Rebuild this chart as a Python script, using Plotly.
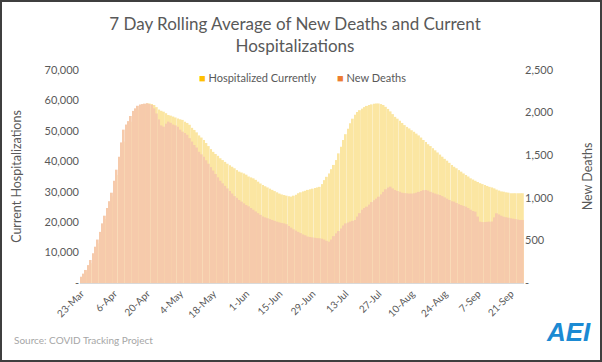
import plotly.graph_objects as go
import pandas as pd

# ---- data (7-day rolling averages) ----
start_date = "2020-03-23"

hospitalized = [
    1800, 2800, 3800, 5000, 6500, 8500, 10500,
    13000, 15500, 18500, 21000, 23500, 26000, 28500,
    32000, 35500, 39000, 43000, 46500, 49000, 51000,
    53000, 54500, 56000, 57000, 57800, 58300, 58700,
    59000, 59000, 58800, 58500, 57800, 57000, 56600,
    56300, 55800, 55200, 55000, 54700, 54400, 54100,
    53800, 53600, 53000, 52600, 52000, 51000, 50300,
    49500, 48500, 47800, 47000, 46000, 45000, 44000,
    43100, 42400, 41800, 41000, 40400, 39800, 39200,
    38700, 38200, 37700, 37100, 36600, 36300, 36000,
    35600, 35000, 34700, 34400, 33900, 33300, 32700,
    32200, 31800, 31400, 31000, 30600, 30200, 29800,
    29400, 29100, 28900, 28700, 28500, 28400, 28700,
    29000, 29500, 29800, 30100, 30300, 30600, 30800,
    31000, 31200, 31400, 31600, 32500, 33800, 34900,
    36000, 37400, 38800, 40400, 42600, 44800, 47000,
    48900, 50700, 52500, 54000, 55300, 56200, 56800,
    57300, 57800, 58200, 58500, 58700, 58900, 59000,
    59000, 58800, 58500, 57900, 57200, 56400, 55500,
    54600, 54000, 53300, 52600, 51900, 51300, 50800,
    50200, 49700, 49100, 48500, 47800, 47000, 46300,
    45600, 45000, 44300, 43600, 42900, 42200, 41500,
    40800, 40200, 39500, 38800, 38200, 37700, 37100,
    36600, 36000, 35500, 35000, 34400, 34000, 33600,
    33200, 32800, 32500, 32200, 31900, 31600, 31400,
    31100, 30700, 30400, 30100, 30000, 29800, 29700,
    29500, 29500, 29500, 29500, 29500, 29500,
]

new_deaths = [
    74, 110, 153, 210, 270, 350, 426,
    510, 600, 700, 790, 880, 960, 1060,
    1200, 1330, 1483, 1650, 1800, 1860, 1900,
    1960, 2020, 2050, 2080, 2095, 2100, 2105,
    2110, 2100, 2090, 2050, 1990, 1920, 1850,
    1835, 1870, 1894, 1880, 1860, 1850, 1835,
    1800, 1776, 1760, 1740, 1700, 1660, 1620,
    1590, 1540, 1510, 1483, 1440, 1400, 1360,
    1320, 1280, 1240, 1200, 1170, 1140, 1110,
    1080, 1050, 1020, 1000, 975, 955, 935,
    915, 900, 880, 860, 840, 820, 800,
    780, 770, 760, 750, 740, 730, 720,
    712, 705, 700, 690, 670, 650, 630,
    615, 600, 585, 570, 560, 545, 540,
    535, 530, 527, 525, 520, 510, 495,
    485, 510, 550, 583, 610, 640, 675,
    700, 710, 720, 730, 740, 780, 820,
    860, 880, 896, 920, 950, 970, 990,
    1013, 1040, 1070, 1100, 1120, 1131, 1110,
    1092, 1080, 1070, 1060, 1055, 1053, 1050,
    1050, 1053, 1060, 1070, 1080, 1090, 1092,
    1085, 1070, 1060, 1050, 1040, 1033, 1020,
    1005, 990, 975, 960, 955, 940, 925,
    915, 905, 896, 880, 860, 845, 837,
    780, 720, 715, 715, 718, 720, 722,
    770, 818, 805, 790, 778, 772, 766,
    760, 755, 750, 745, 740, 740,
]

tick_labels = ["23-Mar", "6-Apr", "20-Apr", "4-May", "18-May", "1-Jun", "15-Jun",
               "29-Jun", "13-Jul", "27-Jul", "10-Aug", "24-Aug", "7-Sep", "21-Sep"]

left_ticks = [0, 10000, 20000, 30000, 40000, 50000, 60000, 70000]
left_tick_text = ["-", "10,000", "20,000", "30,000", "40,000", "50,000", "60,000", "70,000"]
right_ticks = [0, 500, 1000, 1500, 2000, 2500]
right_tick_text = ["-", "500", "1,000", "1,500", "2,000", "2,500"]

series_names = ["Hospitalized Currently", "New Deaths"]

dates = pd.date_range(start_date, periods=len(hospitalized), freq="D")
tick_dates = dates[::14][:len(tick_labels)]

# ---- style ----
W, H = 602, 362
ML, MR, MT, MB = 80, 78, 70, 79
GREY = "#595959"
FONT = "Lato"
YEL_BAR = "#FBE6A2"
ORA_BAR = "#F6CAAB"
YEL_KEY = "#FFC000"
ORA_KEY = "#ED7D31"

fig = go.Figure()
fig.add_trace(go.Bar(x=dates, y=hospitalized, name=series_names[0],
                     marker=dict(color=YEL_BAR, line=dict(width=0)),
                     yaxis="y", showlegend=False))
fig.add_trace(go.Bar(x=dates, y=new_deaths, name=series_names[1],
                     marker=dict(color=ORA_BAR, line=dict(width=0)),
                     yaxis="y2", showlegend=False))

pw = W - ML - MR
ph = H - MT - MB


def px_x(p):
    return (p - ML) / pw


def px_y(p):
    return (H - MB - p) / ph


fig.update_layout(
    width=W, height=H,
    margin=dict(l=ML, r=MR, t=MT, b=MB, pad=0),
    paper_bgcolor="white", plot_bgcolor="white",
    barmode="overlay", bargap=0.18,
    showlegend=False,
    font=dict(family=FONT, color=GREY, size=11),
    title=dict(text="7 Day Rolling Average of New Deaths and Current<br>Hospitalizations",
               x=px_x(295), xref="paper", xanchor="center",
               y=1 - 30 / H, yanchor="middle",
               font=dict(family=FONT, size=17, color=GREY)),
    xaxis=dict(type="date",
               range=[dates[0] - pd.Timedelta(hours=12), dates[-1] + pd.Timedelta(hours=12)],
               tickvals=tick_dates, ticktext=tick_labels, tickangle=-45,
               tickfont=dict(size=10, color=GREY),
               showgrid=False, zeroline=False, automargin=False,
               showline=True, linecolor="#D9D9D9", linewidth=1, ticks=""),
    yaxis=dict(range=[0, 70000], tickvals=left_ticks, ticktext=left_tick_text,
               showgrid=False, zeroline=False, showline=False, ticks="", automargin=False,
               tickfont=dict(size=11, color=GREY),
               title=dict(text="Current Hospitalizations", font=dict(size=12.5, color=GREY),
                          standoff=20)),
    yaxis2=dict(range=[0, 2500], tickvals=right_ticks, ticktext=right_tick_text,
                overlaying="y", side="right", automargin=False,
                showgrid=False, zeroline=False, showline=False, ticks="",
                tickfont=dict(size=11, color=GREY),
                title=dict(text="New Deaths", font=dict(size=12.5, color=GREY), standoff=30)),
    shapes=[dict(type="rect", xref="paper", yref="paper",
                 x0=px_x(1), x1=px_x(W - 1), y0=px_y(H - 1), y1=px_y(1),
                 line=dict(color="#3F3F3F", width=2), fillcolor="rgba(0,0,0,0)",
                 layer="above")],
    annotations=[
        dict(text=f"<span style='color:{YEL_KEY}'>■</span> {series_names[0]}",
             xref="paper", yref="paper", x=px_x(197), y=px_y(77),
             xanchor="left", yanchor="middle", showarrow=False,
             font=dict(size=11, color=GREY)),
        dict(text=f"<span style='color:{ORA_KEY}'>■</span> {series_names[1]}",
             xref="paper", yref="paper", x=px_x(335), y=px_y(77),
             xanchor="left", yanchor="middle", showarrow=False,
             font=dict(size=11, color=GREY)),
        dict(text="Source: COVID Tracking Project", xref="paper", yref="paper",
             x=px_x(12), y=px_y(340), xanchor="left", yanchor="middle", showarrow=False,
             font=dict(size=10, color="#A6A6A6")),
        dict(text="<b><i>AEI</i></b>", xref="paper", yref="paper",
             x=px_x(568), y=px_y(332), xanchor="center", yanchor="middle", showarrow=False,
             font=dict(family="Liberation Sans", size=26, color="#1B8AD3")),
    ],
)

fig.write_html("out.html", config={"displayModeBar": False},
               post_script="document.body.style.margin='0';")
